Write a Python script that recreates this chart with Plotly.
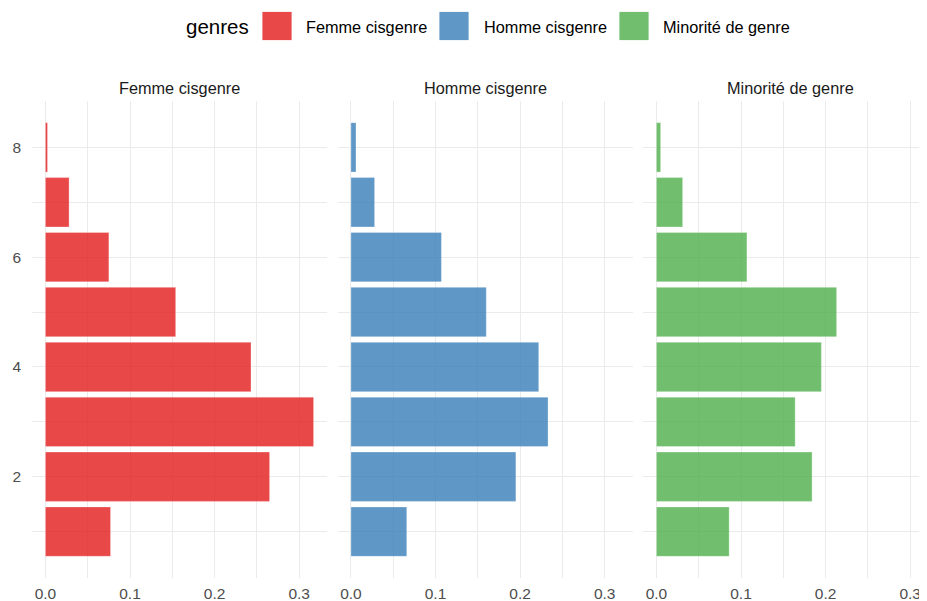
import plotly.graph_objects as go

# ---- data ----
categories = [1, 2, 3, 4, 5, 6, 7, 8]
genres = ["Femme cisgenre", "Homme cisgenre", "Minorité de genre"]
femme_cis = [0.077, 0.265, 0.317, 0.243, 0.154, 0.075, 0.028, 0.0025]
homme_cis = [0.066, 0.195, 0.233, 0.222, 0.160, 0.107, 0.028, 0.006]
minorite = [0.086, 0.184, 0.164, 0.195, 0.213, 0.107, 0.031, 0.005]
series = [femme_cis, homme_cis, minorite]
colors = ["rgba(228,26,28,0.8)", "rgba(55,126,184,0.8)", "rgba(77,175,74,0.8)"]
x_ticks = [0.0, 0.1, 0.2, 0.3]
x_tick_labels = ["0.0", "0.1", "0.2", "0.3"]
y_ticks = [2, 4, 6, 8]

OFF = 8  # page body margin offset
W, H = 927 - OFF, 601 - OFF
FONT = "Liberation Sans, Arial, sans-serif"

def fx(px):
    return (px - OFF) / W

def fy(py):
    return 1 - (py - OFF) / H

# panel pixel extents in window coords (last panel is cropped by the image edge)
panels_px = [(32, 327), (337.5, 632.5), (643, 927)]
top_px, bot_px = 101, 578

xmax_data = max(max(s) for s in series)
xlo = -0.05 * xmax_data
xhi = xmax_data * 1.05
scale = (panels_px[0][1] - panels_px[0][0]) / (xhi - xlo)

fig = go.Figure()
layout = dict(
    width=W, height=H,
    margin=dict(l=0, r=0, t=0, b=0),
    paper_bgcolor="white", plot_bgcolor="white",
    showlegend=False,
    bargap=0.1,
    font=dict(family=FONT),
)

grid = "#EBEBEB"
for i, (g, vals, col) in enumerate(zip(genres, series, colors)):
    xa = "x" if i == 0 else f"x{i+1}"
    ya = "y" if i == 0 else f"y{i+1}"
    fig.add_trace(go.Bar(
        x=vals, y=categories, orientation="h", width=0.9,
        marker=dict(color=col, line=dict(color="rgba(255,255,255,0.5)", width=0.6)),
        xaxis=xa, yaxis=ya, name=g, hoverinfo="x+y",
    ))
    x0p, x1p = panels_px[i]
    right = xlo + (x1p - x0p) / scale
    xkey = "xaxis" if i == 0 else f"xaxis{i+1}"
    ykey = "yaxis" if i == 0 else f"yaxis{i+1}"
    layout[xkey] = dict(
        domain=[fx(x0p), min(1.0, fx(x1p))], range=[xlo, right], anchor=ya,
        tickvals=x_ticks, ticktext=x_tick_labels,
        showgrid=True, gridcolor=grid, gridwidth=1.1,
        minor=dict(dtick=0.05, tick0=0, showgrid=True, gridcolor=grid, gridwidth=0.6),
        zeroline=False, showline=False, ticks="", automargin=False,
        tickfont=dict(size=15.5, color="#4D4D4D", family=FONT),
        ticklabelstandoff=4,
    )
    layout[ykey] = dict(
        domain=[fy(bot_px), fy(top_px)], range=[0.155, 8.845], anchor=xa,
        tickvals=y_ticks,
        showgrid=True, gridcolor=grid, gridwidth=1.1,
        minor=dict(dtick=1, tick0=1, showgrid=True, gridcolor=grid, gridwidth=0.6),
        zeroline=False, showline=False, ticks="", automargin=False,
        showticklabels=(i == 0),
        tickfont=dict(size=15.5, color="#4D4D4D", family=FONT),
        ticklabelstandoff=10,
    )

annotations = []
shapes = []
# facet strip titles
for i, g in enumerate(genres):
    x0p = panels_px[i][0]
    center = x0p + 147.5
    annotations.append(dict(
        x=fx(center), y=fy(88), xref="paper", yref="paper", text=g,
        showarrow=False, xanchor="center", yanchor="middle",
        font=dict(size=16.3, color="#1A1A1A", family=FONT),
    ))

# legend (drawn manually for large ggplot-like keys)
annotations.append(dict(
    x=fx(184), y=fy(27), xref="paper", yref="paper", text="genres",
    showarrow=False, xanchor="left", yanchor="middle",
    font=dict(size=20.5, color="black", family=FONT),
))
key_x = [262, 439, 619]
text_x = [304, 482, 661]
for g, col, kx, tx in zip(genres, colors, key_x, text_x):
    shapes.append(dict(
        type="rect", xref="paper", yref="paper",
        x0=fx(kx), x1=fx(kx + 30), y0=fy(40.5), y1=fy(11.5),
        fillcolor=col, line=dict(color="white", width=0.8), layer="above",
    ))
    annotations.append(dict(
        x=fx(tx), y=fy(27), xref="paper", yref="paper", text=g,
        showarrow=False, xanchor="left", yanchor="middle",
        font=dict(size=16.3, color="black", family=FONT),
    ))

layout["annotations"] = annotations
layout["shapes"] = shapes
fig.update_layout(**layout)
fig.write_html("out.html")
